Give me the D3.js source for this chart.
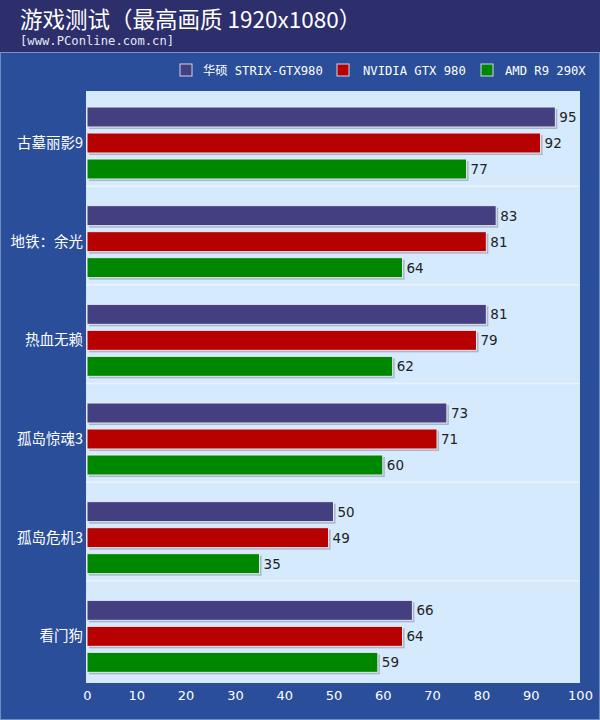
<!DOCTYPE html>
<html><head><meta charset="utf-8">
<script src="https://cdn.jsdelivr.net/npm/d3@7"></script>
<style>body{margin:0;background:#2a4e9a}svg{display:block}</style>
</head><body>
<svg id="c" width="600" height="720"></svg>
<script>
const categories = ["古墓丽影9","地铁：余光","热血无赖","孤岛惊魂3","孤岛危机3","看门狗"];
const seriesNames = ["华硕 STRIX-GTX980","NVIDIA GTX 980","AMD R9 290X"];
const strixValues = [95,83,81,73,50,66];
const gtx980Values = [92,81,79,71,49,64];
const r9Values = [77,64,62,60,35,59];
const xTicks = [0,10,20,30,40,50,60,70,80,90,100];
const colors = ["#433f80","#b70000","#008700"];
const allValues = [strixValues, gtx980Values, r9Values];

const svg = d3.select("#c");
const W = 600, H = 720;
const cjk = "'Noto Sans CJK SC','Noto Sans',sans-serif";

svg.append("rect").attr("width",W).attr("height",H).attr("fill","#2a4e9a");
svg.append("rect").attr("x",0.5).attr("y",0.5).attr("width",W-1).attr("height",H-1).attr("fill","none").attr("stroke","#6f8cc4");
svg.append("rect").attr("width",W).attr("height",52).attr("fill","#2d2e6c");
svg.append("line").attr("x1",0).attr("x2",W).attr("y1",52.5).attr("y2",52.5).attr("stroke","#7e8ed0");

svg.append("text").attr("x",20).attr("y",28).attr("fill","#fff").attr("font-family",cjk).attr("font-size",22.5)
  .text("游戏测试（最高画质 1920x1080）");
svg.append("text").attr("x",20).attr("y",45).attr("fill","#e6e8f4").attr("font-family","'DejaVu Sans Mono',monospace").attr("font-size",12.2)
  .text("[www.PConline.com.cn]");

// legend
const legendX = [186, 343, 487];
const legendTextX = [203, 363, 505];
seriesNames.forEach((n,i)=>{
  svg.append("rect").attr("x",legendX[i]-6).attr("y",64).attr("width",12).attr("height",12).attr("fill",colors[i]).attr("stroke","#d0d4ea").attr("stroke-width",1);
  svg.append("text").attr("x",legendTextX[i]).attr("y",75).attr("fill","#fff").attr("font-family","'DejaVu Sans Mono','Noto Sans CJK SC',monospace").attr("font-size",12.2).text(n);
});

const plot = {l:86, t:91, r:580, b:683};
svg.append("rect").attr("x",plot.l).attr("y",plot.t).attr("width",plot.r-plot.l).attr("height",plot.b-plot.t).attr("fill","#d5eafd");

const x = d3.scaleLinear().domain([0,100]).range([plot.l+1, plot.r]);
const y = d3.scaleBand().domain(categories).range([plot.t, plot.b]);
const inner = d3.scaleBand().domain([0,1,2]).range([16, 88]).paddingInner(6/26);

// separators
categories.slice(1).forEach(c=>{
  svg.append("line").attr("x1",plot.l).attr("x2",plot.r).attr("y1",y(c)-3.5).attr("y2",y(c)-3.5).attr("stroke","#eaf4fe").attr("stroke-width",1.5);
});

categories.forEach((c,ci)=>{
  const g = svg.append("g").attr("transform",`translate(0,${y(c)})`);
  allValues.forEach((vals,si)=>{
    const v = vals[ci];
    const yy = inner(si), h = inner.bandwidth();
    g.append("rect").attr("x",x(0)+2).attr("y",yy+2).attr("width",x(v)-x(0)).attr("height",h).attr("fill","#a9b4c8");
    g.append("rect").attr("x",x(0)).attr("y",yy).attr("width",x(v)-x(0)).attr("height",h).attr("fill",colors[si]).attr("stroke","#e8ecf6").attr("stroke-width",1);
    g.append("text").attr("x",x(v)+4).attr("y",yy+h/2+5).attr("fill","#222").attr("font-family","'DejaVu Sans',sans-serif").attr("font-size",13.5).text(v);
  });
  svg.append("text").attr("x",plot.l-3).attr("y",y(c)+inner(1)+inner.bandwidth()/2+5).attr("text-anchor","end")
    .attr("fill","#fff").attr("font-family",cjk).attr("font-size",14.5).text(c);
});

const xAxis = d3.axisBottom(x).tickValues(xTicks).tickSize(0).tickPadding(8);
const ax = svg.append("g").attr("transform",`translate(0,${plot.b})`).call(xAxis);
ax.select(".domain").remove();
ax.selectAll("text").attr("fill","#fff").attr("font-family","'DejaVu Sans',sans-serif").attr("font-size",13);
</script>
</body></html>
